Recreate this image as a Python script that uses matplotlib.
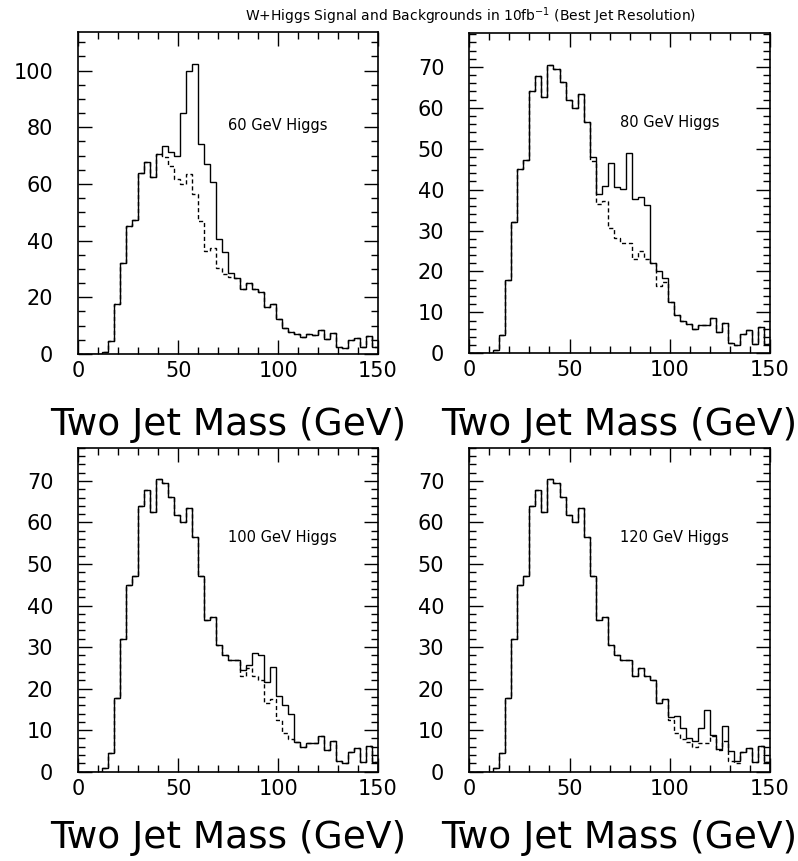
import numpy as np
import matplotlib.pyplot as plt
from matplotlib.ticker import MultipleLocator

# two-jet mass bins, 3 GeV wide from 0 to 150
edges = np.arange(0, 153, 3)

# common background (dashed), events per bin
bkg = [0, 0, 0, 0, 0.8,
       4.5, 17.8, 32, 45, 47.2,
       64, 67.8, 62.6, 70.5, 69.5,
       66.2, 61.8, 60, 63.4, 56.5,
       47, 36.5, 37.3, 30.5, 28.2,
       27, 26.9, 23, 25, 23,
       22, 16.5, 17.5, 12.5, 9.3,
       7.8, 7.2, 6, 7, 6.8,
       8.6, 5.2, 7.5, 2.5, 2,
       4.8, 5.8, 2.3, 6.3, 2.3]

# Higgs signal added on top of the background (solid = bkg + signal)
sig60 = [0]*14 + [4, 5.1, 8.2, 25, 36.4, 45.9, 27.2, 30.7, 23.3, 9.9, 7.8, 1.5] + [0]*24
sig80 = [0]*20 + [1, 2.5, 3.5, 16.1, 12.4, 13.2, 22.1, 14.6, 13.2, 13.2, 0, 3.5, 1] + [0]*17
sig100 = [0]*27 + [1.5, 0.7, 5.7, 6.2, 5.2, 7.8, 5.7, 6.8, 6.2, 0] + [0]*13
sig120 = [0]*33 + [0.6, 4.1, 2.7, 0.9, 1.3, 3.5, 8.1, 0.3, 0.2, 3.5, 2.4, 0.5] + [0]*5

masses = ['60', '80', '100', '120']
signals = [sig60, sig80, sig100, sig120]
ymax = [113.5, 78.2, 78, 78]

# axes boxes in figure fractions (left, bottom, width, height)
boxes = [[0.0981, 0.5889, 0.3756, 0.3736],
         [0.5881, 0.5897, 0.3768, 0.3716],
         [0.0981, 0.1037, 0.3756, 0.3763],
         [0.5881, 0.1037, 0.3768, 0.3763]]
label_y = [0.5064, 0.5064, 0.0267, 0.0267]

fig = plt.figure(figsize=(7.98, 8.61), dpi=100)
fig.text(0.307, 0.981, r'W+Higgs Signal and Backgrounds in 10fb$^{-1}$ (Best Jet Resolution)',
         ha='left', va='center', fontsize=10)

for i in range(4):
    ax = fig.add_axes(boxes[i])
    b = np.array(bkg)
    tot = b + np.array(signals[i])
    ax.stairs(tot, edges, color='black', lw=1.0)
    ax.stairs(b, edges, color='black', lw=1.0, ls=(0, (3, 2)))
    ax.set_xlim(0, 150)
    ax.set_ylim(0, ymax[i])
    ax.xaxis.set_major_locator(MultipleLocator(50))
    ax.xaxis.set_minor_locator(MultipleLocator(10))
    if i == 0:
        ax.yaxis.set_major_locator(MultipleLocator(20))
        ax.yaxis.set_minor_locator(MultipleLocator(5))
        ty = 80.5
    else:
        ax.yaxis.set_major_locator(MultipleLocator(10))
        ax.yaxis.set_minor_locator(MultipleLocator(2))
        ty = 56.3
    ax.tick_params(which='both', direction='in', top=True, right=True, width=1.0)
    ax.tick_params(which='major', length=10, labelsize=15)
    ax.tick_params(which='minor', length=5)
    ax.tick_params(axis='y', pad=18)
    ax.tick_params(axis='x', pad=5)
    for s in ax.spines.values():
        s.set_linewidth(1.2)
    ax.text(75, ty, masses[i] + ' GeV Higgs', fontsize=10.5, va='center', ha='left')
    x0, _, w, _ = boxes[i]
    fig.text(x0 + w / 2, label_y[i], 'Two Jet Mass (GeV)', fontsize=27,
             ha='center', va='center')

plt.savefig('out.png', dpi=100)
